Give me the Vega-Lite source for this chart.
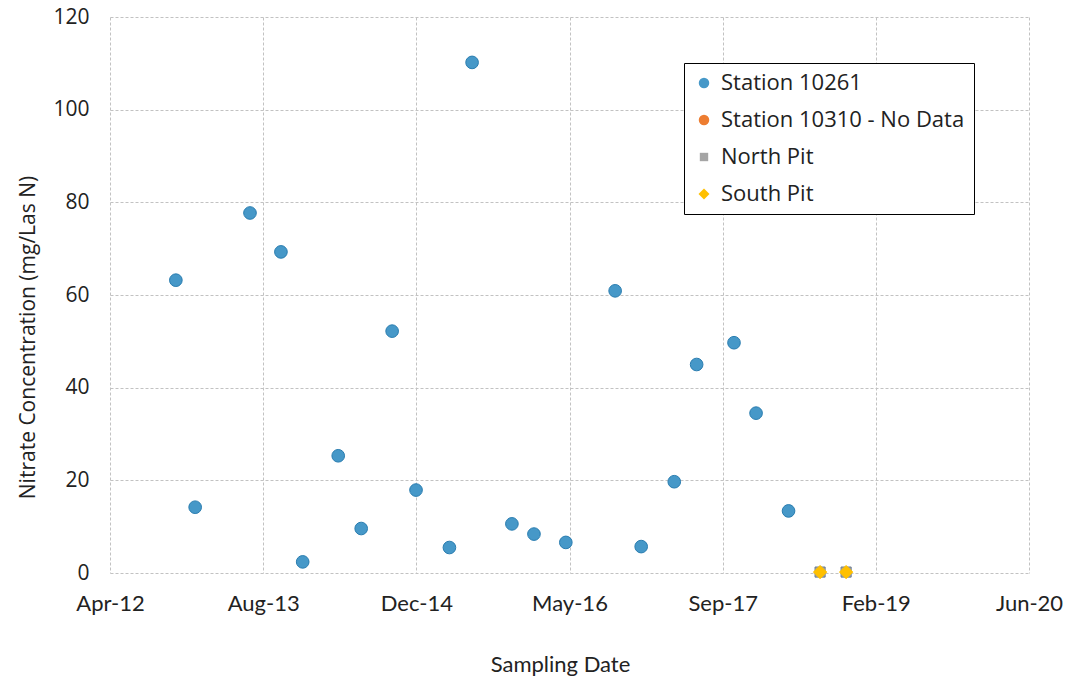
{
  "$schema": "https://vega.github.io/schema/vega-lite/v6.json",
  "width": 919,
  "height": 556,
  "autosize": {"type": "none"},
  "padding": {"left": 110, "top": 17, "right": 46, "bottom": 108},
  "background": "white",
  "config": {
    "view": {"stroke": null},
    "font": "Open Sans"
  },
  "data": {
    "values": [
      {"date": "2012-11-02", "value": 63.2, "series": "Station 10261"},
      {"date": "2013-01-04", "value": 14.2, "series": "Station 10261"},
      {"date": "2013-07-02", "value": 77.7, "series": "Station 10261"},
      {"date": "2013-10-11", "value": 69.3, "series": "Station 10261"},
      {"date": "2013-12-21", "value": 2.4, "series": "Station 10261"},
      {"date": "2014-04-16", "value": 25.3, "series": "Station 10261"},
      {"date": "2014-06-30", "value": 9.6, "series": "Station 10261"},
      {"date": "2014-10-09", "value": 52.2, "series": "Station 10261"},
      {"date": "2014-12-26", "value": 17.9, "series": "Station 10261"},
      {"date": "2015-04-14", "value": 5.5, "series": "Station 10261"},
      {"date": "2015-06-27", "value": 110.2, "series": "Station 10261"},
      {"date": "2015-11-04", "value": 10.6, "series": "Station 10261"},
      {"date": "2016-01-15", "value": 8.4, "series": "Station 10261"},
      {"date": "2016-04-28", "value": 6.6, "series": "Station 10261"},
      {"date": "2016-10-06", "value": 60.9, "series": "Station 10261"},
      {"date": "2016-12-30", "value": 5.7, "series": "Station 10261"},
      {"date": "2017-04-17", "value": 19.7, "series": "Station 10261"},
      {"date": "2017-06-29", "value": 45.0, "series": "Station 10261"},
      {"date": "2017-10-29", "value": 49.7, "series": "Station 10261"},
      {"date": "2018-01-09", "value": 34.5, "series": "Station 10261"},
      {"date": "2018-04-25", "value": 13.4, "series": "Station 10261"},
      {"date": "2018-08-06", "value": 0.2, "series": "North Pit"},
      {"date": "2018-10-30", "value": 0.2, "series": "North Pit"},
      {"date": "2018-08-06", "value": 0.2, "series": "South Pit"},
      {"date": "2018-10-30", "value": 0.2, "series": "South Pit"}
    ]
  },
  "mark": {"type": "point", "filled": true, "strokeWidth": 1, "opacity": 1, "size": 160},
  "encoding": {
    "x": {
      "field": "date",
      "type": "temporal",
      "scale": {
        "type": "utc",
        "domain": [
          {"year": 2012, "month": 4, "date": 1, "utc": true},
          {"year": 2020, "month": 6, "date": 18, "utc": true}
        ]
      },
      "axis": {
        "title": "Sampling Date",
        "values": [
          {"year": 2012, "month": 4, "date": 1, "utc": true},
          {"year": 2013, "month": 8, "date": 14, "utc": true},
          {"year": 2014, "month": 12, "date": 27, "utc": true},
          {"year": 2016, "month": 5, "date": 10, "utc": true},
          {"year": 2017, "month": 9, "date": 22, "utc": true},
          {"year": 2019, "month": 2, "date": 4, "utc": true},
          {"year": 2020, "month": 6, "date": 18, "utc": true}
        ],
        "labelExpr": "utcFormat(datum.value, '%b-%y')",
        "labelFont": "Lato",
        "labelFontSize": 22,
        "labelColor": "#222222",
        "labelPadding": 20,
        "labelFlush": false,
        "labelOverlap": false,
        "ticks": false,
        "domain": false,
        "grid": true,
        "gridColor": "#c2c2c2",
        "gridDash": [3, 2],
        "gridWidth": 1,
        "titleFont": "Lato",
        "titleFontSize": 22,
        "titleFontWeight": "normal",
        "titleColor": "#222222",
        "titlePadding": 40,
        "titleX": 450
      }
    },
    "y": {
      "field": "value",
      "type": "quantitative",
      "scale": {"domain": [0, 120], "nice": false},
      "axis": {
        "title": "Nitrate Concentration (mg/Las N)",
        "values": [0, 20, 40, 60, 80, 100, 120],
        "labelFontSize": 21,
        "labelColor": "#222222",
        "labelPadding": 21,
        "ticks": false,
        "domain": false,
        "grid": true,
        "gridColor": "#c2c2c2",
        "gridDash": [3, 2],
        "gridWidth": 1,
        "titleFontSize": 21,
        "titleFontWeight": "normal",
        "titleColor": "#222222",
        "titlePadding": 14,
        "titleY": 320
      }
    },
    "color": {
      "field": "series",
      "type": "nominal",
      "scale": {
        "domain": ["Station 10261", "Station 10310 - No Data", "North Pit", "South Pit"],
        "range": ["#4698c8", "#ed7d31", "#a5a5a5", "#ffc000"]
      },
      "legend": {
        "title": null,
        "orient": "none",
        "legendX": 574,
        "legendY": 46,
        "padding": 9,
        "strokeColor": "#000000",
        "fillColor": "#ffffff",
        "labelFont": "Open Sans",
        "labelFontSize": 22,
        "labelColor": "#222222",
        "labelLimit": 400,
        "labelOffset": 6,
        "symbolOffset": 0,
        "rowPadding": 15,
        "symbolSize": 110,
        "symbolStrokeWidth": 0
      }
    },
    "shape": {
      "field": "series",
      "type": "nominal",
      "scale": {
        "domain": ["Station 10261", "Station 10310 - No Data", "North Pit", "South Pit"],
        "range": ["circle", "circle", "M-0.8,-0.8H0.8V0.8H-0.8Z", "M0,-1.05L1.05,0L0,1.05L-1.05,0Z"]
      },
      "legend": null
    },
    "stroke": {
      "field": "series",
      "type": "nominal",
      "scale": {
        "domain": ["Station 10261", "Station 10310 - No Data", "North Pit", "South Pit"],
        "range": ["#2a7db0", "#d56a20", "#6f7f90", "#ffc000"]
      },
      "legend": null
    }
  }
}
